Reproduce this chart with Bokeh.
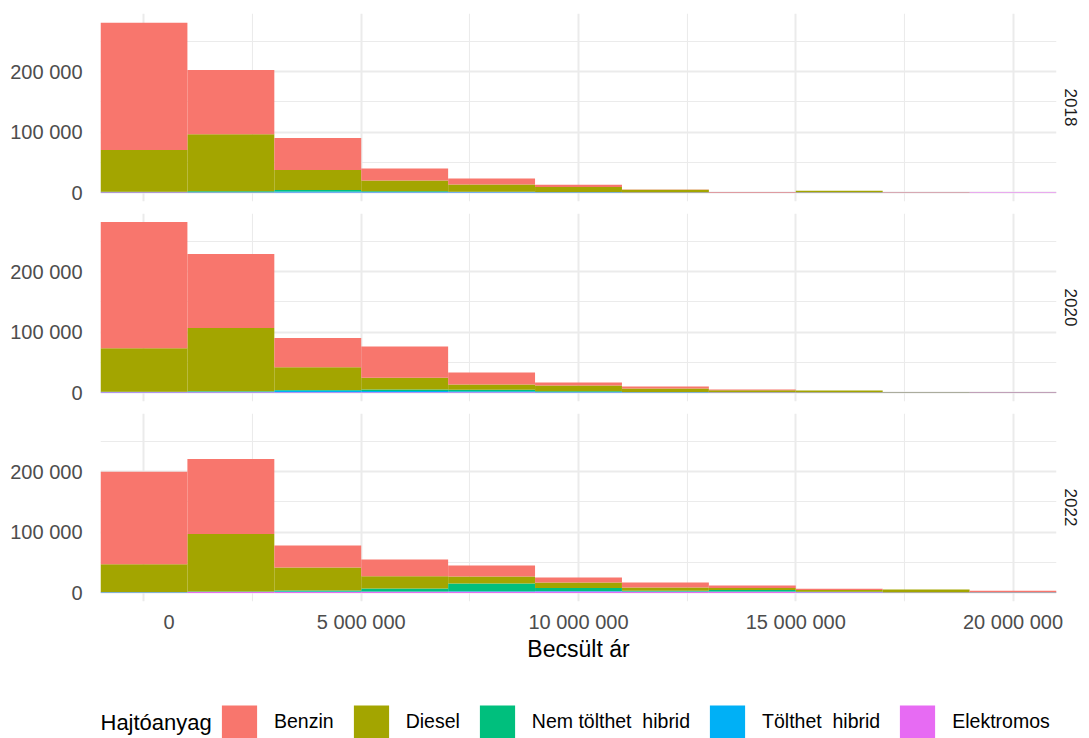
from bokeh.plotting import figure
from bokeh.models import (Range1d, FixedTicker, Legend, LegendItem, Label, Title,
                          ColumnDataSource)
from bokeh.layouts import column
from bokeh.embed import file_html
from bokeh.resources import INLINE

# ---------------- data ----------------
years = ["2018", "2020", "2022"]
fuel_labels = ["Benzin", "Diesel", "Nem tölthet\u00a0 hibrid", "Tölthet\u00a0 hibrid", "Elektromos"]
fuel_keys = ["benzin", "diesel", "nem", "tolt", "elek"]
fuel_colors = ["#F8766D", "#A3A500", "#00BF7D", "#00B0F6", "#E76BF3"]

bin_centers = [0, 2000000, 4000000, 6000000, 8000000, 10000000,
               12000000, 14000000, 16000000, 18000000, 20000000]
bin_width = 2000000

benzin_2018 = [210000, 106000, 52700, 20000, 10000, 3500, 800, 300, 300, 200, 100]
diesel_2018 = [69000, 94000, 33000, 17500, 12000, 8500, 4000, 400, 2500, 200, 100]
nem_2018 = [500, 1500, 2500, 1500, 600, 400, 200, 100, 100, 50, 50]
tolt_2018 = [300, 500, 1500, 800, 600, 400, 300, 200, 200, 100, 100]
elek_2018 = [1000, 800, 800, 700, 800, 700, 600, 600, 700, 700, 600]

benzin_2020 = [208000, 122300, 48000, 51500, 19800, 5000, 3300, 1000, 200, 300, 200]
diesel_2020 = [72000, 104000, 37500, 19500, 8500, 9500, 5500, 3300, 2800, 400, 200]
nem_2020 = [300, 1200, 1500, 2500, 2500, 1000, 500, 300, 200, 100, 100]
tolt_2020 = [300, 800, 2500, 2000, 1800, 800, 500, 300, 200, 100, 100]
elek_2020 = [1200, 1000, 1000, 1200, 1100, 900, 700, 700, 700, 800, 800]

benzin_2022 = [152600, 123800, 36400, 27700, 18300, 8300, 8300, 3800, 2100, 0, 2400]
diesel_2022 = [46000, 95000, 38000, 20000, 11600, 8800, 5000, 3300, 3000, 4500, 300]
nem_2022 = [300, 400, 1800, 5000, 12500, 5200, 1500, 2700, 500, 200, 100]
tolt_2022 = [200, 300, 500, 600, 900, 600, 500, 500, 300, 200, 100]
elek_2022 = [900, 1500, 1700, 1900, 2000, 2500, 1800, 1800, 1200, 600, 900]

x_ticks = [0, 5000000, 10000000, 15000000, 20000000]
x_tick_labels = ["0", "5 000 000", "10 000 000", "15 000 000", "20 000 000"]
x_minor_ticks = [2500000, 7500000, 12500000, 17500000]
y_ticks = [0, 100000, 200000]
y_tick_labels = ["0", "100 000", "200 000"]
y_minor_ticks = [50000, 150000, 250000]

x_title = "Becsült ár"
legend_title = "Hajtóanyag"

year_data = {
    "2018": dict(benzin=benzin_2018, diesel=diesel_2018, nem=nem_2018, tolt=tolt_2018, elek=elek_2018),
    "2020": dict(benzin=benzin_2020, diesel=diesel_2020, nem=nem_2020, tolt=tolt_2020, elek=elek_2020),
    "2022": dict(benzin=benzin_2022, diesel=diesel_2022, nem=nem_2022, tolt=tolt_2022, elek=elek_2022),
}

# ---------------- styling ----------------
W = 1089
FONT = "Liberation Sans"
GRID = "#EBEBEB"
PANEL_H = 188
BORDER_L, BORDER_R = 100, 33

ymax = max(sum(vals) for y in years for vals in zip(*[year_data[y][k] for k in fuel_keys]))
x_rng = Range1d(bin_centers[0] - bin_width / 2, bin_centers[-1] + bin_width / 2)
y_rng = Range1d(-0.05 * ymax, 1.05 * ymax)

# ggplot pads the "0" label so that it sits right of its grid line
x_overrides = {t: l for t, l in zip(x_ticks, x_tick_labels)}
x_overrides[0] = "\u00a0" * 9 + x_tick_labels[0]
y_overrides = {t: l for t, l in zip(y_ticks, y_tick_labels)}

stack_order = ["elek", "tolt", "nem", "diesel", "benzin"]  # bottom -> top


def make_panel(year, top, bottom, show_x):
    p = figure(width=W, height=top + PANEL_H + bottom, x_range=x_rng, y_range=y_rng,
               output_backend="svg", toolbar_location=None,
               x_axis_location="below" if show_x else None,
               min_border_left=BORDER_L, min_border_right=BORDER_R,
               min_border_top=top, min_border_bottom=bottom)
    p.outline_line_color = None
    p.background_fill_color = "white"
    p.border_fill_color = "white"

    xt = FixedTicker(ticks=x_ticks, minor_ticks=x_minor_ticks)
    yt = FixedTicker(ticks=y_ticks, minor_ticks=y_minor_ticks)
    p.xgrid.ticker = xt
    p.ygrid.ticker = yt
    for g in (p.xgrid, p.ygrid):
        g.grid_line_color = GRID
        g.grid_line_width = 2
        g.minor_grid_line_color = GRID
        g.minor_grid_line_width = 1.1

    p.yaxis.ticker = yt
    p.yaxis.major_label_overrides = y_overrides
    p.yaxis.axis_line_color = None
    p.yaxis.major_tick_line_color = None
    p.yaxis.minor_tick_line_color = None
    p.yaxis.major_label_standoff = 12
    p.yaxis.major_label_text_font = FONT
    p.yaxis.major_label_text_font_size = "20px"
    p.yaxis.major_label_text_color = "#4D4D4D"

    if show_x:
        p.xaxis.ticker = xt
        p.xaxis.major_label_overrides = x_overrides
        p.xaxis.axis_line_color = None
        p.xaxis.major_tick_line_color = None
        p.xaxis.minor_tick_line_color = None
        p.xaxis.major_label_standoff = 3
        p.xaxis.major_label_text_font = FONT
        p.xaxis.major_label_text_font_size = "20px"
        p.xaxis.major_label_text_color = "#4D4D4D"
        p.xaxis.axis_label = x_title
        p.xaxis.axis_label_standoff = 0
        p.xaxis.axis_label_text_font = FONT
        p.xaxis.axis_label_text_font_size = "23px"
        p.xaxis.axis_label_text_font_style = "normal"
        p.xaxis.axis_label_text_color = "black"

    src = ColumnDataSource(dict(x=bin_centers, **year_data[year]))
    p.vbar_stack(stack_order, x="x", width=bin_width, source=src,
                 fill_color=[fuel_colors[fuel_keys.index(k)] for k in stack_order],
                 line_color=None)

    # facet strip on the right (reads top to bottom)
    t = Title(text=year, align="center", vertical_align="top", standoff=13,
              text_font=FONT, text_font_size="17px", text_font_style="normal",
              text_color="#1A1A1A")
    p.add_layout(t, "right")
    return p


p1 = make_panel("2018", 13, 6, False)
p2 = make_panel("2020", 6, 6, False)
p3 = make_panel("2022", 6, 80, True)
used = p1.height + p2.height + p3.height

# ---------------- legend ----------------
leg = figure(width=W, height=738 - used, x_range=(0, 1), y_range=(0, 1),
             output_backend="svg", toolbar_location=None,
             x_axis_location=None, y_axis_location=None,
             min_border_left=BORDER_L, min_border_right=BORDER_R,
             min_border_top=0, min_border_bottom=0)
leg.outline_line_color = None
leg.background_fill_color = "white"
leg.border_fill_color = "white"
leg.xgrid.visible = False
leg.ygrid.visible = False
items = []
for name, c in zip(fuel_labels, fuel_colors):
    # legend-only renderer, its single bar lies outside the visible range
    r = leg.vbar(x=[-5], top=[0], width=0.1, fill_color=c, line_color=None)
    items.append(LegendItem(label=name, renderers=[r]))

legend = Legend(items=items, orientation="horizontal", location=(117, -4),
                glyph_width=44, glyph_height=41, label_standoff=13, spacing=15,
                padding=0, margin=0, border_line_color=None, background_fill_alpha=0,
                label_text_font=FONT, label_text_font_size="19.5px",
                label_text_color="black")
leg.add_layout(legend, "center")
leg.add_layout(Label(x=0, y=16, x_units="screen", y_units="screen", text=legend_title,
                     text_baseline="middle", text_align="left", text_font=FONT,
                     text_font_size="22px", text_color="black"))

layout = column(p1, p2, p3, leg, spacing=0)
open("out.html", "w").write(file_html(layout, INLINE))
